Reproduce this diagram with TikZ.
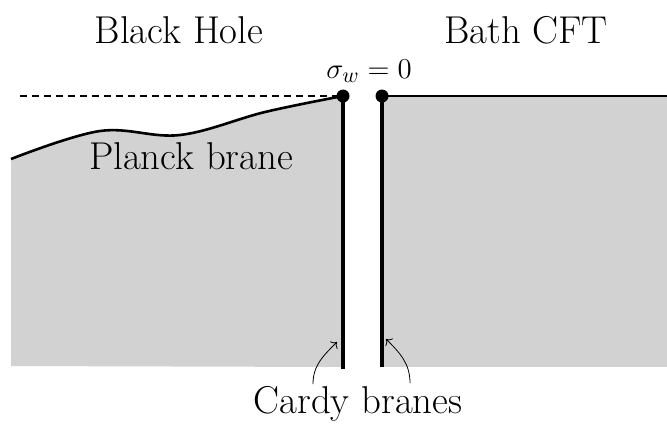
\documentclass[tikz,border=0pt]{standalone}
\usetikzlibrary{positioning, arrows.meta}

\begin{document}
\begin{tikzpicture}[
    x=0.5pt, y=-0.5pt,
    region/.style={fill=gray!35},
    brane/.style={line width=1.6pt},
    label/.style={font=\fontsize{19.4}{23}\selectfont, inner sep=0pt},
    endpt/.style={circle, fill=black, inner sep=0pt, minimum size=6.5pt},
    pointer/.style={->, thin}
]
\useasboundingbox (0,0) rectangle (667,425);

% -------------------------
% Regions
% -------------------------
\fill[region] plot[smooth, tension=0.6] coordinates {(11,159) (100,131) (180,135) (265,112) (343,96)}
    -- (343,367) -- (11,366) -- cycle;
\fill[region] (382,96) rectangle (667,367);

% -------------------------
% Branes and boundaries
% -------------------------
\node[endpt] (dotL) at (343,96) {};
\node[endpt] (dotR) at (382,96) {};
\coordinate (botL) at (343,369);
\coordinate (botR) at (382,367);
\coordinate (dashStart) at (20,96);
\coordinate (bathEnd) at (667,96);

\draw[line width=1.3pt] plot[smooth, tension=0.6] coordinates {(11,159) (100,131) (180,135) (265,112) (343,96)};
\draw[line width=1pt, dash pattern=on 3.5pt off 2.5pt] (dashStart) -- (dotL.center);
\draw[line width=1pt] (dotR.center) -- (bathEnd);
\draw[brane] (dotL.center) -- (botL);
\draw[brane] (dotR.center) -- (botR);

% -------------------------
% Labels
% -------------------------
\node[label] (bh) at (179,30) {Black Hole};
\node[label] (bath) at (526,30) {Bath CFT};
\node[label, font=\fontsize{15.5}{19}\selectfont] (sigma) at (369,71) {$\sigma_w = 0$};
\node[label] (planck) at (191,156) {Planck brane};
\node[label] (cardy) at (358,404) {Cardy branes};

% Cardy brane pointers
\coordinate (cardyL) at (313,384);
\coordinate (cardyR) at (410,383);
\coordinate (tipL) at (337,342);
\coordinate (tipR) at (386,339);
\draw[pointer] (cardyL) to[out=90, in=225] (tipL);
\draw[pointer] (cardyR) to[out=90, in=-45] (tipR);

\end{tikzpicture}
\end{document}
